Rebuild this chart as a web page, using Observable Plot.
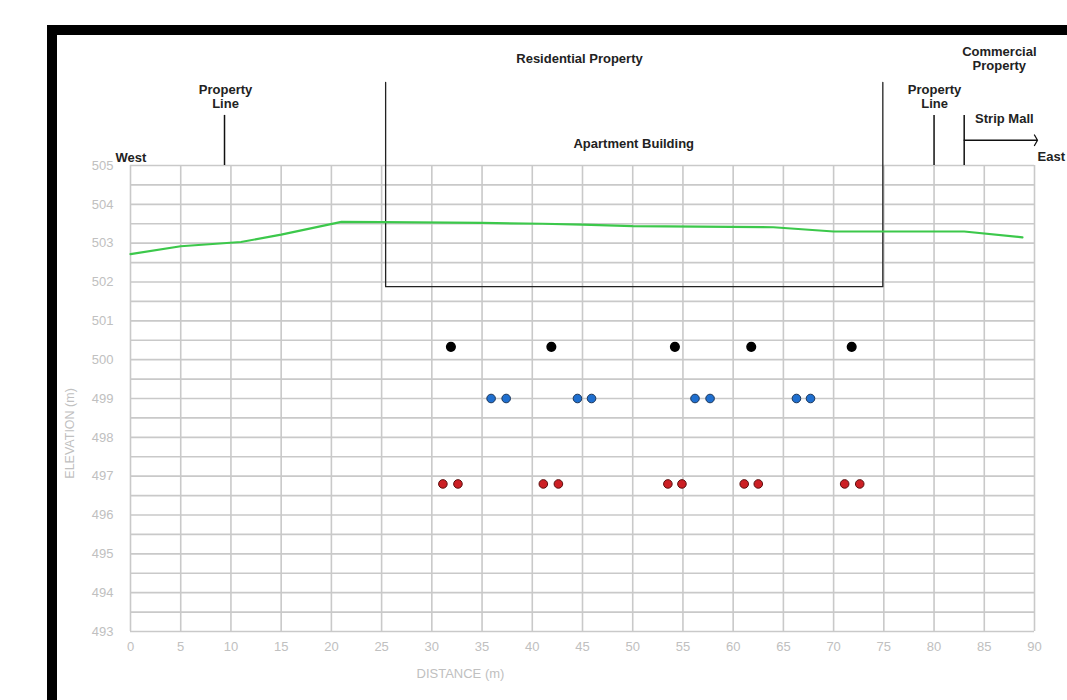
<!DOCTYPE html>
<html>
<head>
<meta charset="utf-8">
<script src="https://cdn.jsdelivr.net/npm/d3@7"></script>
<script src="https://cdn.jsdelivr.net/npm/@observablehq/plot@0.6"></script>
<style>
  html, body { margin: 0; padding: 0; background: #fff; width: 1067px; height: 700px; overflow: hidden; }
  #frame { position: absolute; left: 47px; top: 25px; width: 1100px; height: 760px; border-left: 10px solid #000; border-top: 10px solid #000; box-sizing: border-box; }
  #chart { position: absolute; left: 0; top: 0; }
  #chart svg { background: transparent !important; }
</style>
</head>
<body>
<div id="frame"></div>
<div id="chart"></div>
<script>
// Ground surface profile (distance m, elevation m)
const groundX = [0, 5, 11, 15, 21, 25, 35, 41, 45, 50, 64, 70, 83, 88.8];
const groundY = [502.72, 502.92, 503.03, 503.22, 503.55, 503.54, 503.52, 503.50, 503.48, 503.44, 503.41, 503.30, 503.30, 503.15];

// Point series
const blackX = [31.9, 41.9, 54.2, 61.8, 71.8];
const blackY = 500.33;
const blueX = [35.9, 37.4, 44.5, 45.9, 56.2, 57.7, 66.3, 67.7];
const blueY = 499.0;
const redX = [31.1, 32.6, 41.1, 42.6, 53.5, 54.9, 61.1, 62.5, 71.1, 72.6];
const redY = 496.8;

// Building outline (distance, elevation)
const buildingX = [25.4, 25.4, 74.9, 74.9];
const buildingY = [507.14, 501.88, 501.88, 507.14];

// Marker lines
const markerX = [9.36, 80.0, 83.0];
const markerY1 = 505;
const markerY2 = 506.29;

// Annotations
const labelText = ["Residential Property", "Apartment Building", "Property\nLine", "Property\nLine", "Commercial\nProperty", "Strip Mall"];
const labelX = [44.7, 50.1, 9.46, 80.05, 86.5, 87.0];
const labelY = [507.76, 505.57, 506.78, 506.78, 507.76, 506.21];

// Axes
const xTicks = d3.range(0, 91, 5);
const yTicks = d3.range(493, 506, 1);
const yGrid = d3.range(493, 505.01, 0.5);

const ground = groundX.map((x, i) => ({x, y: groundY[i]}));
const building = buildingX.map((x, i) => ({x, y: buildingY[i]}));
const labels = labelText.map((t, i) => ({t, x: labelX[i], y: labelY[i]}));

const font = "'Liberation Sans', Arial, sans-serif";
const gridColor = "#c9c9c9";
const tickColor = "#c0c0c0";

const chart = Plot.plot({
  width: 1067,
  height: 700,
  marginLeft: 130,
  marginRight: 33,
  marginTop: 165,
  marginBottom: 69,
  style: { fontFamily: font, background: "transparent", overflow: "visible" },
  x: { domain: [0, 90] },
  y: { domain: [493, 505] },
  marks: [
    Plot.ruleY(yGrid, { y: d => d, x1: 0, x2: 90, stroke: gridColor, strokeWidth: 1.6 }),
    Plot.ruleX(xTicks, { x: d => d, y1: 493, y2: 505, stroke: gridColor, strokeWidth: 1.6 }),
    Plot.axisX({ ticks: xTicks, tickSize: 0, tickPadding: 10, fontSize: 13, color: tickColor, label: null }),
    Plot.axisY({ ticks: yTicks, tickSize: 0, tickPadding: 17, fontSize: 13, color: tickColor, label: null }),
    Plot.text(["DISTANCE (m)"], { x: 32.85, y: 491.92, text: d => d, fontSize: 13, fill: tickColor }),
    Plot.text(["ELEVATION (m)"], { x: -6.0, y: 498.1, text: d => d, fontSize: 12.5, fill: tickColor, rotate: -90 }),
    Plot.line(building, { x: "x", y: "y", stroke: "#222", strokeWidth: 1.3 }),
    Plot.line(ground, { x: "x", y: "y", stroke: "#3cc84b", strokeWidth: 2.2 }),
    Plot.ruleX(markerX, { x: d => d, y1: markerY1, y2: markerY2, stroke: "#111", strokeWidth: 1.5 }),
    Plot.arrow([{x1: 83.0, x2: 90.3, y: 505.65}], { x1: "x1", x2: "x2", y1: "y", y2: "y", stroke: "#111", strokeWidth: 1.3, headAngle: 120, headLength: 7 }),
    Plot.dot(blackX, { x: d => d, y: blackY, r: 4.3, fill: "#000", stroke: "#000" }),
    Plot.dot(blueX, { x: d => d, y: blueY, r: 4.3, fill: "#1f6fcf", stroke: "#1b3558", strokeWidth: 1 }),
    Plot.dot(redX, { x: d => d, y: redY, r: 4.3, fill: "#cc1f24", stroke: "#5a0d0d", strokeWidth: 1 }),
    Plot.text(labels, { x: "x", y: "y", text: "t", fontSize: 13, fontWeight: "bold", fill: "#222", lineHeight: 1.08 }),
    Plot.text(["West"], { x: -1.5, y: 505.21, text: d => d, textAnchor: "start", fontSize: 13, fontWeight: "bold", fill: "#222" }),
    Plot.text(["East"], { x: 90.3, y: 505.23, text: d => d, textAnchor: "start", fontSize: 13, fontWeight: "bold", fill: "#222" })
  ]
});
document.getElementById("chart").appendChild(chart);
</script>
</body>
</html>
